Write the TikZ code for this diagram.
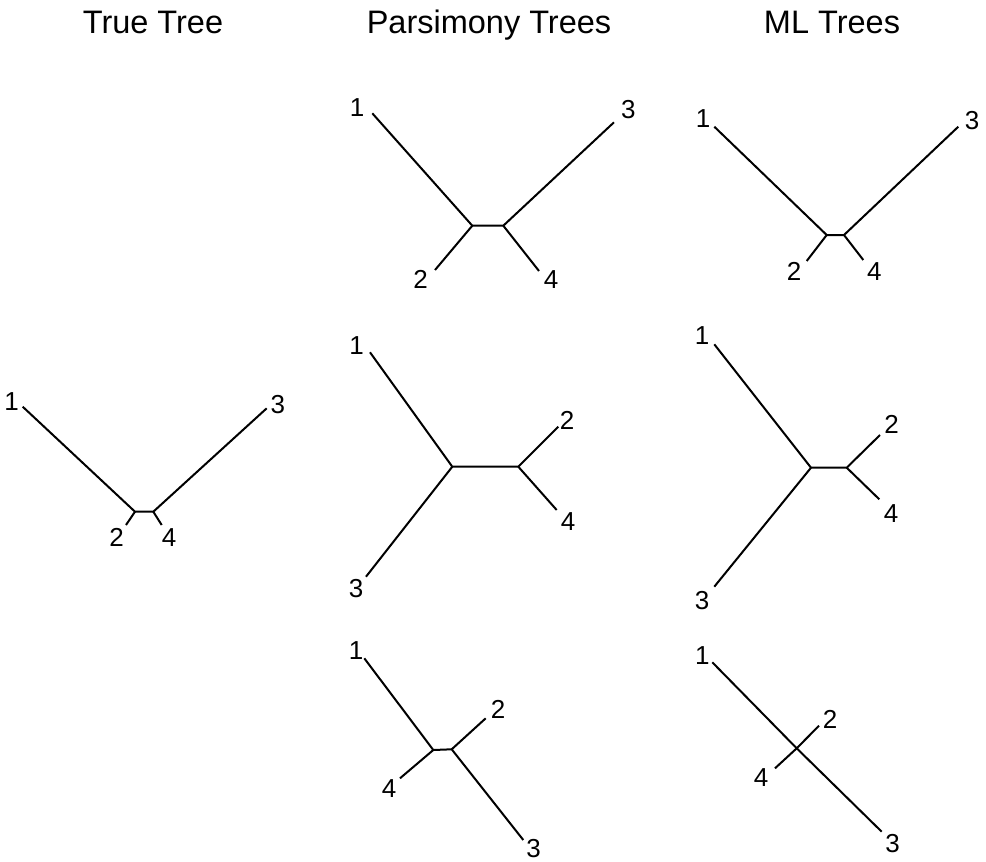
\documentclass[tikz,border=0pt]{standalone}
\usepackage{fontspec}
\setmainfont{Liberation Sans}
\usepackage{tikz}

\begin{document}
\begin{tikzpicture}[
                    x=1pt,
                    y=-1pt,
                    line width=2pt,
                    line join=round
                ]
                \tikzstyle{title}=[inner sep=0pt,anchor=base,font=\fontsize{32.5}{34}\selectfont]
                \tikzstyle{taxon}=[inner sep=0pt,font=\fontsize{26}{28}\selectfont]

                \useasboundingbox (0,0) rectangle (986,862);

                \node[title] (T1) at (153,34) {True Tree};
                \node[title] (T2) at (489,34) {Parsimony Trees};
                \node[title] (T3) at (832,34) {ML Trees};

                % true tree
                \coordinate (t1) at (22.7,406.7);
                \coordinate (tu) at (135,511.7);
                \coordinate (tv) at (153.3,511.7);
                \coordinate (t2) at (126,525);
                \coordinate (t4) at (161.7,525);
                \coordinate (t3) at (266.7,408.3);
                \node[taxon] (lt1) at (11.7,401.7) {1};
                \node[taxon] (lt2) at (116.7,537.7) {2};
                \node[taxon] (lt4) at (169,537.7) {4};
                \node[taxon] (lt3) at (277.8,404.2) {3};

                % parsimony trees
                \coordinate (pa1) at (372.3,113.3);
                \coordinate (pau) at (472.3,225.7);
                \coordinate (pav) at (503.3,225.7);
                \coordinate (pa2) at (435,270);
                \coordinate (pa4) at (539,271);
                \coordinate (pa3) at (614,122.3);
                \node[taxon] (lpa1) at (357,108) {1};
                \node[taxon] (lpa2) at (420.5,279) {2};
                \node[taxon] (lpa4) at (551,280) {4};
                \node[taxon] (lpa3) at (628.3,110) {3};

                \coordinate (pb1) at (370,352.3);
                \coordinate (pbu) at (452.3,466.7);
                \coordinate (pbv) at (518.3,466.7);
                \coordinate (pb2) at (558.3,426.7);
                \coordinate (pb4) at (556.7,510);
                \coordinate (pb3) at (366,576.7);
                \node[taxon] (lpb1) at (356.7,345.5) {1};
                \node[taxon] (lpb2) at (567,420.5) {2};
                \node[taxon] (lpb4) at (568,521.3) {4};
                \node[taxon] (lpb3) at (356,588.5) {3};

                \coordinate (pc1) at (364.3,658.3);
                \coordinate (pcu) at (433.3,750);
                \coordinate (pcv) at (451.7,749.3);
                \coordinate (pc2) at (485.7,718.3);
                \coordinate (pc4) at (400,778.3);
                \coordinate (pc3) at (523.3,840);
                \node[taxon] (lpc1) at (356,650.5) {1};
                \node[taxon] (lpc2) at (498,709.5) {2};
                \node[taxon] (lpc4) at (389,788.3) {4};
                \node[taxon] (lpc3) at (533.7,848.7) {3};

                % ML trees
                \coordinate (ma1) at (714.3,126.7);
                \coordinate (mau) at (826.7,235);
                \coordinate (mav) at (844,235);
                \coordinate (ma2) at (806.7,261);
                \coordinate (ma4) at (863.3,260);
                \coordinate (ma3) at (958.3,126.7);
                \node[taxon] (lma1) at (703,118.3) {1};
                \node[taxon] (lma2) at (794,271) {2};
                \node[taxon] (lma4) at (874.3,271.3) {4};
                \node[taxon] (lma3) at (972,121) {3};

                \coordinate (mb1) at (714.3,344.3);
                \coordinate (mbu) at (811,467.7);
                \coordinate (mbv) at (846.7,467.7);
                \coordinate (mb2) at (880,435);
                \coordinate (mb4) at (879.3,499.3);
                \coordinate (mb3) at (714.3,586.7);
                \node[taxon] (lmb1) at (702,335.5) {1};
                \node[taxon] (lmb2) at (891.7,424) {2};
                \node[taxon] (lmb4) at (891,513.3) {4};
                \node[taxon] (lmb3) at (702,600.5) {3};

                \coordinate (mc1) at (712.3,662.3);
                \coordinate (mcu) at (796.7,748.3);
                \coordinate (mc2) at (819,725.7);
                \coordinate (mc4) at (775,768.3);
                \coordinate (mc3) at (881.7,831.7);
                \node[taxon] (lmc1) at (702.3,656) {1};
                \node[taxon] (lmc2) at (830,719) {2};
                \node[taxon] (lmc4) at (761,778) {4};
                \node[taxon] (lmc3) at (892.5,843.3) {3};

                \draw (t1) -- (tu) -- (tv) -- (t3);
                \draw (t2) -- (tu) (tv) -- (t4);

                \draw (pa1) -- (pau) -- (pav) -- (pa3);
                \draw (pa2) -- (pau) (pav) -- (pa4);
                \draw (pb1) -- (pbu) -- (pbv) -- (pb2);
                \draw (pb3) -- (pbu) (pbv) -- (pb4);
                \draw (pc1) -- (pcu) -- (pcv) -- (pc3);
                \draw (pc4) -- (pcu) (pcv) -- (pc2);

                \draw (ma1) -- (mau) -- (mav) -- (ma3);
                \draw (ma2) -- (mau) (mav) -- (ma4);
                \draw (mb1) -- (mbu) -- (mbv) -- (mb2);
                \draw (mb3) -- (mbu) (mbv) -- (mb4);
                \draw (mc1) -- (mcu) -- (mc3);
                \draw (mc4) -- (mcu) -- (mc2);

            \end{tikzpicture}
\end{document}
